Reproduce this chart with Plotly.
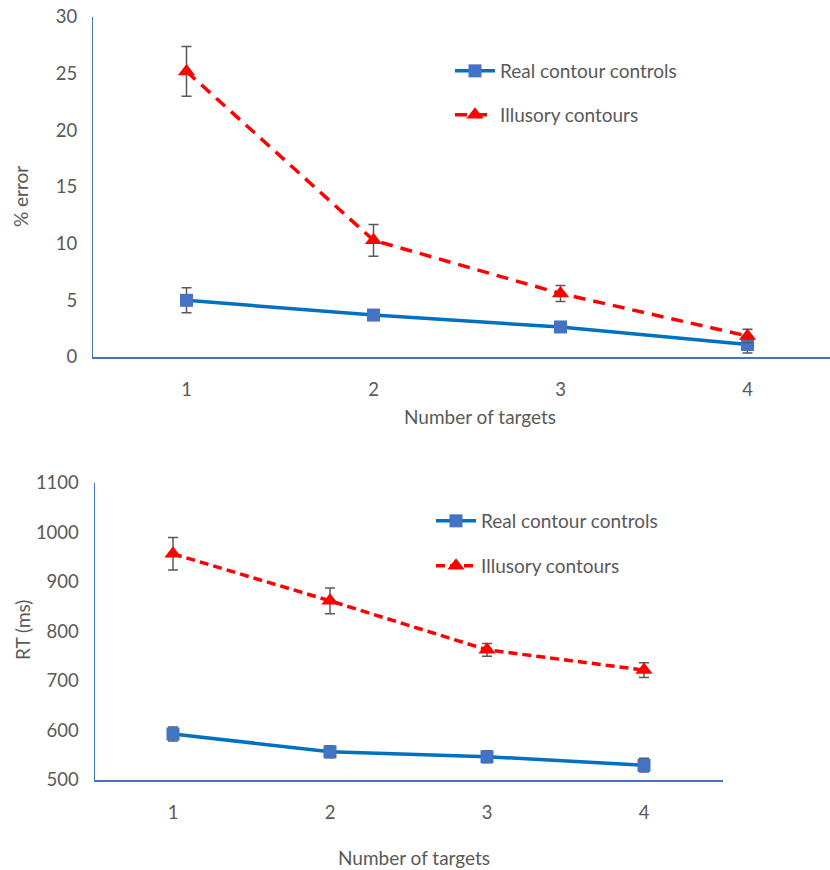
import plotly.graph_objects as go

W, H = 830, 870

targets = [1, 2, 3, 4]
tick_text = ["1", "2", "3", "4"]

# Top panel: % error
err_real = [5.0, 3.7, 2.65, 1.1]
err_real_sd = [1.1, 0.45, 0.45, 0.75]
err_illus = [25.2, 10.3, 5.6, 1.85]
err_illus_sd = [2.2, 1.4, 0.7, 0.6]

# Bottom panel: RT (ms)
rt_real = [593, 557, 547, 530]
rt_real_sd = [14, 12, 12, 14]
rt_illus = [957, 862, 763, 722]
rt_illus_sd = [33, 26, 13, 15]

BLUE_LINE = "#0070C0"
BLUE_MARK = "#4472C4"
RED = "#FF0000"
GRAY = "#595959"
AXIS = "#4472C4"
FONT = "Lato"

fig = go.Figure()

def px_x(p):
    return p / W

def px_y(p):
    return 1 - p / H

eb = dict(type="data", color=GRAY, thickness=1.5, width=5, visible=True)

fig.add_trace(go.Scatter(
    x=targets, y=err_real, mode="lines+markers", name="Real contour controls",
    line=dict(color=BLUE_LINE, width=3.5),
    marker=dict(symbol="square", size=13, color=BLUE_MARK),
    error_y=dict(array=err_real_sd, **eb),
    xaxis="x", yaxis="y", legend="legend"))
fig.add_trace(go.Scatter(
    x=targets, y=err_illus, mode="lines+markers", name="Illusory contours",
    line=dict(color=RED, width=3.5, dash="12px,8px"),
    marker=dict(symbol="triangle-up", size=15, color=RED),
    error_y=dict(array=err_illus_sd, **eb),
    xaxis="x", yaxis="y", legend="legend2"))
fig.add_trace(go.Scatter(
    x=targets, y=rt_real, mode="lines+markers", name="Real contour controls",
    line=dict(color=BLUE_LINE, width=3.5),
    marker=dict(symbol="square", size=13, color=BLUE_MARK),
    error_y=dict(array=rt_real_sd, **eb),
    xaxis="x2", yaxis="y2", legend="legend3"))
fig.add_trace(go.Scatter(
    x=targets, y=rt_illus, mode="lines+markers", name="Illusory contours",
    line=dict(color=RED, width=3.5, dash="9px,5px"),
    marker=dict(symbol="triangle-up", size=15, color=RED),
    error_y=dict(array=rt_illus_sd, **eb),
    xaxis="x2", yaxis="y2", legend="legend4"))

tickfont = dict(family=FONT, size=18.5, color=GRAY)
common_x = dict(showgrid=False, zeroline=False, showline=True, linecolor=AXIS, linewidth=1.5,
                tickmode="array", tickvals=targets, ticktext=tick_text, ticks="",
                tickfont=tickfont, ticklabelstandoff=15, fixedrange=True, automargin=False)
common_y = dict(showgrid=False, zeroline=False, showline=True, linecolor=AXIS, linewidth=1,
                ticks="", tickfont=tickfont, ticklabelstandoff=11, fixedrange=True, automargin=False)

legfont = dict(family=FONT, size=19, color=GRAY)
def leg(xp, yp):
    return dict(x=px_x(xp), y=px_y(yp), xanchor="left", yanchor="middle",
                font=legfont, bgcolor="rgba(0,0,0,0)", borderwidth=0, itemwidth=40)

fig.update_layout(
    width=W, height=H, margin=dict(l=0, r=0, t=0, b=0, autoexpand=False),
    paper_bgcolor="white", plot_bgcolor="white",
    font=dict(family=FONT, color=GRAY),
    xaxis=dict(domain=[px_x(93), 1], range=[0.5, 0.5 + (W - 93) / 187], anchor="y", **common_x),
    yaxis=dict(domain=[px_y(357), px_y(17)], range=[0, 30], tickvals=[0, 5, 10, 15, 20, 25, 30],
               anchor="x", **common_y),
    xaxis2=dict(domain=[px_x(94.5), px_x(722.5)], range=[0.5, 4.5], anchor="y2", **common_x),
    yaxis2=dict(domain=[px_y(780), px_y(483)], range=[500, 1100],
                tickvals=[500, 600, 700, 800, 900, 1000, 1100], anchor="x2", **common_y),
    legend=leg(450, 71),
    legend2=leg(450, 115),
    legend3=leg(431, 521),
    legend4=leg(431, 566),
    showlegend=True,
)

ann_font = dict(family=FONT, size=19, color=GRAY)
fig.add_annotation(text="Number of targets", x=px_x(480), y=px_y(416), xref="paper", yref="paper",
                   showarrow=False, font=ann_font, xanchor="center", yanchor="middle")
fig.add_annotation(text="Number of targets", x=px_x(414), y=px_y(857), xref="paper", yref="paper",
                   showarrow=False, font=ann_font, xanchor="center", yanchor="middle")
fig.add_annotation(text="% error", x=px_x(20), y=px_y(197), xref="paper", yref="paper",
                   showarrow=False, font=ann_font, textangle=-90, xanchor="center", yanchor="middle")
fig.add_annotation(text="RT (ms)", x=px_x(22), y=px_y(630), xref="paper", yref="paper",
                   showarrow=False, font=ann_font, textangle=-90, xanchor="center", yanchor="middle")

fig.write_html("out.html", config={"displayModeBar": False},
               post_script="document.body.style.margin='0px';document.body.style.overflow='hidden';")
